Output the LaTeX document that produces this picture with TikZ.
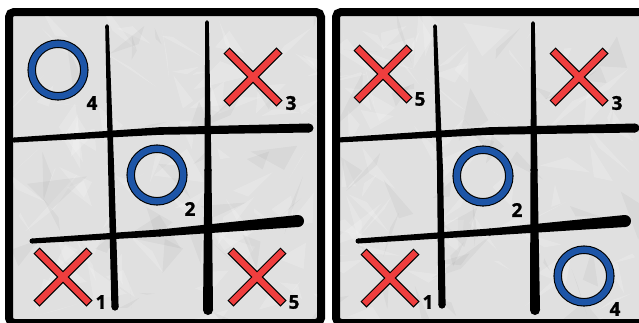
\documentclass[tikz,border=0pt]{standalone}
\usepackage{fontspec}
\newfontfamily\labfont[BoldFeatures={FakeBold=1.2}]{Open Sans}
\usetikzlibrary{calc}
\definecolor{paper}{HTML}{E0E0E0}
\definecolor{ored}{HTML}{EF3E3E}
\definecolor{oblue}{HTML}{1D55A7}
\tikzset{
  num/.style={font=\labfont\bfseries\fontsize{19}{19}\selectfont, inner sep=0pt, text=black},
  frame/.style={line width=8pt, rounded corners=5pt, draw=black, fill=paper},
  ink/.style={fill=black},
}
% tapered brush segment: A, half width at A, B, half width at B
\newcommand\brush[4]{%
  \fill[ink] ($(#1)!#2!90:(#3)$) -- ($(#3)!#4!-90:(#1)$) -- ($(#3)!#4!90:(#1)$) -- ($(#1)!#2!-90:(#3)$) -- cycle;
  \fill[ink] (#1) circle (#2); \fill[ink] (#3) circle (#4);
}
\newcommand\xmark[1]{%
  \draw[line width=8.5pt, black] ($(#1)+(-26.5,-26.5)$) -- ($(#1)+(26.5,26.5)$);
  \draw[line width=8.5pt, black] ($(#1)+(-26.5,26.5)$) -- ($(#1)+(26.5,-26.5)$);
  \draw[line width=6.3pt, ored] ($(#1)+(-25.7,-25.7)$) -- ($(#1)+(25.7,25.7)$);
  \draw[line width=6.3pt, ored] ($(#1)+(-25.7,25.7)$) -- ($(#1)+(25.7,-25.7)$);
}
\newcommand\omark[1]{%
  \draw[line width=8.5pt, black] (#1) circle (26.3);
  \draw[line width=6.3pt, oblue] (#1) circle (26.3);
}
\begin{document}
\begin{tikzpicture}[x=1pt, y=-1pt]
\useasboundingbox (0,0) rectangle (639,322);
\fill[white] (0,0) rectangle (639,322);
\clip (0,0) rectangle (639,322);
% boards
\draw[frame] (9,12) rectangle (321,323);
\draw[frame] (336,12) rectangle (660,323);
% paper texture
\begin{scope}
  \clip (13,16) rectangle (317,319) (340,16) rectangle (639,319);
  \pgfmathsetseed{7}
  \foreach \i in {1,...,160}{
    \pgfmathsetmacro\cx{5+rnd*640}
    \pgfmathsetmacro\cy{5+rnd*320}
    \fill[white, opacity=0.18] (\cx,\cy) -- ++(rand*35,rand*35) -- ++(rand*35,rand*35) -- cycle;
  }
  \foreach \i in {1,...,70}{
    \pgfmathsetmacro\cx{5+rnd*640}
    \pgfmathsetmacro\cy{5+rnd*320}
    \fill[black, opacity=0.035] (\cx,\cy) -- ++(rand*35,rand*35) -- ++(rand*35,rand*35) -- cycle;
  }
\end{scope}
% left grid
\brush{107,26}{1.8pt}{111,165}{3pt}\brush{111,165}{3pt}{115,307}{3.6pt}
\brush{207,22}{1.8pt}{208,170}{3.5pt}\brush{208,170}{3.5pt}{208,310}{5pt}
\brush{14,140}{2.5pt}{160,131}{3.8pt}\brush{160,131}{3.8pt}{309,128}{4.5pt}
\brush{32,241}{2.5pt}{160,233}{3.5pt}\brush{160,233}{3.5pt}{298,221}{6pt}
% right grid
\brush{435,26}{1.8pt}{440,170}{3pt}\brush{440,170}{3pt}{442,305}{3.6pt}
\brush{533,23}{1.8pt}{534,170}{3.5pt}\brush{534,170}{3.5pt}{535,310}{5pt}
\brush{338,140}{2.5pt}{490,131}{3.8pt}\brush{490,131}{3.8pt}{635,128}{4.5pt}
\brush{358,241}{2.5pt}{490,232}{3.5pt}\brush{490,232}{3.5pt}{625,221}{6pt}
% mark positions
\coordinate (L4) at (58,70);
\coordinate (L3) at (253,77);
\coordinate (L2) at (157,175);
\coordinate (L1) at (63,277);
\coordinate (L5) at (257,277);
\coordinate (R5) at (383,74);
\coordinate (R3) at (579,77);
\coordinate (R2) at (483,176);
\coordinate (R1) at (390,278);
\coordinate (R4) at (584,276);
\omark{L4}\xmark{L3}\omark{L2}\xmark{L1}\xmark{L5}
\xmark{R5}\xmark{R3}\omark{R2}\xmark{R1}\omark{R4}
% move numbers
\node[num] (nL4) at (92,103) {4};
\node[num] (nL3) at (291,103) {3};
\node[num] (nL2) at (190,209) {2};
\node[num] (nL1) at (101,302) {1};
\node[num] (nL5) at (294,302) {5};
\node[num] (nR5) at (420,99) {5};
\node[num] (nR3) at (617,103) {3};
\node[num] (nR2) at (517,210) {2};
\node[num] (nR1) at (428,302) {1};
\node[num] (nR4) at (615,309) {4};
\end{tikzpicture}
\end{document}
